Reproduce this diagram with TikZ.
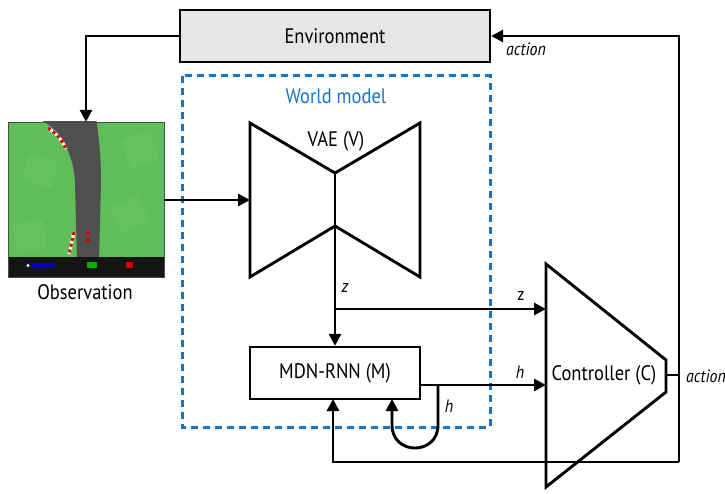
\documentclass[tikz,border=0pt]{standalone}
\usepackage{fontspec}
\setmainfont{PT Sans}[FakeStretch=0.88]
\usetikzlibrary{arrows.meta}
\definecolor{wmblue}{HTML}{1A74C4}
\definecolor{envgray}{HTML}{E6E6E6}
\definecolor{grass}{HTML}{5EBE5A}
\definecolor{grasslight}{HTML}{66C25F}
\definecolor{road}{HTML}{505050}
\tikzset{
  wire/.style={line width=2.9pt, black},
  arr/.style={wire, -{Triangle[length=12pt,width=12pt]}},
  blockbox/.style={draw, line width=2.3pt, inner sep=0pt},
  lbl/.style={font=\fontsize{18}{18}\selectfont\itshape, inner sep=1pt},
  main/.style={font=\fontsize{21}{21}\selectfont},
}
\begin{document}
\begin{tikzpicture}[x=1pt,y=-1pt]
\useasboundingbox (0,0) rectangle (725,494);

% Environment block
\node[blockbox, fill=envgray, minimum width=310pt, minimum height=52pt, main] (env) at (335,36) {Environment};

% World model frame
\draw[wmblue, line width=3pt, dash pattern=on 7pt off 5pt] (182,76) rectangle (490,427);
\node[text=wmblue, main] (wmlabel) at (336,96) {World model};

% Observation frame (rendered racing scene)
\node[minimum width=156pt, minimum height=155pt, inner sep=0pt] (obs) at (86,199.5) {};
\begin{scope}
  \clip (8,122) rectangle (164,257);
  \fill[grass] (8,122) rectangle (164,257);
  \fill[grasslight, rotate around={20:(140,150)}] (125,135) rectangle (155,165);
  \fill[grasslight, rotate around={-15:(40,170)}] (25,158) rectangle (55,185);
  \fill[grasslight, rotate around={25:(130,215)}] (115,200) rectangle (145,228);
  \fill[grasslight, rotate around={10:(30,235)}] (15,222) rectangle (45,250);
  \fill[road] (36,118) .. controls (58,126) and (73,150) .. (75,182) -- (77,262) -- (99,262) -- (101,182) .. controls (101,150) and (98,132) .. (96,118) -- cycle;
  \draw[white, line width=3pt] (48,128) .. controls (56,133) and (62,140) .. (66,149);
  \draw[red!85!black, line width=3pt, dash pattern=on 3pt off 3pt] (48,128) .. controls (56,133) and (62,140) .. (66,149);
  \draw[white, line width=3pt] (74,232) -- (69,254);
  \draw[red!85!black, line width=3pt, dash pattern=on 3pt off 3pt] (74,232) -- (69,254);
  \fill[red!85!black] (88,233) circle (2.2pt);
  \fill[red!85!black] (88,240) circle (2.2pt);
\end{scope}
\fill[black!92] (8,257) rectangle (164,277);
\fill[blue!75!black] (31,263.5) rectangle (55,267.5);
\fill[white] (28,265.5) circle (1.6pt);
\fill[green!70!black] (87,262) rectangle (97,268);
\fill[red!85!black] (126,262) rectangle (133,268);
\draw[black!70, line width=0.8pt] (8,122) rectangle (164,277);
\node[main] (obslabel) at (85,292) {Observation};

% VAE hourglass
\coordinate (vaeIn) at (250,200);
\coordinate (vaeTop) at (335,173);
\coordinate (vaeBot) at (335,226);
\draw[wire, line join=miter] (250,123) -- (vaeTop) -- (420,123) -- (420,277) -- (vaeBot) -- (250,277) -- cycle;
\draw[wire] (vaeTop) -- (vaeBot);
\node[main] (vaelabel) at (336,141) {VAE (V)};

% MDN-RNN block
\node[blockbox, fill=white, minimum width=170pt, minimum height=52pt, main] (mdn) at (335,373) {MDN-RNN (M)};

% Controller trapezoid
\coordinate (cTL) at (546,264);
\coordinate (cBL) at (546,487);
\coordinate (cTip) at (666,375);
\draw[wire, line join=miter] (cTL) -- (666,360) -- (666,392) -- (cBL) -- cycle;
\node[main] (ctrl) at (604,375) {Controller (C)};

% Connectors
\draw[arr] (env.west) -| (obs.north);
\draw[arr] (obs.east |- vaeIn) -- (vaeIn);
\draw[arr] (vaeBot) -- (mdn.north);
\coordinate (zSplit) at (335,309);
\draw[arr] (zSplit) -- (cTL |- zSplit);
\coordinate (hOut) at (mdn.east |- 0,385);
\draw[arr] (hOut) -- (cTL |- hOut);
\coordinate (loopR) at (438,385);
\draw[arr] (loopR) -- (438,425) .. controls (438,455.7) and (392,455.7) .. (392,425) -- (392,399);
\coordinate (fbTop) at (679,36);
\coordinate (fbBot) at (679,462);
\draw[wire] (cTip) -- (cTip -| fbTop);
\draw[arr] (fbBot) -- (fbTop) -- (env.east);
\draw[arr] (fbBot) -| (333,399);

% Signal labels
\node[lbl] (actTop) at (526,49) {action};
\node[lbl, anchor=west] (actRight) at (685,376) {action};
\node[lbl] (zVae) at (345,288) {z};
\node[lbl, font=\fontsize{18}{18}\selectfont] (zCtrl) at (521,296) {z};
\node[lbl] (hCtrl) at (520,372) {h};
\node[lbl] (hLoop) at (449,406) {h};
\end{tikzpicture}
\end{document}
